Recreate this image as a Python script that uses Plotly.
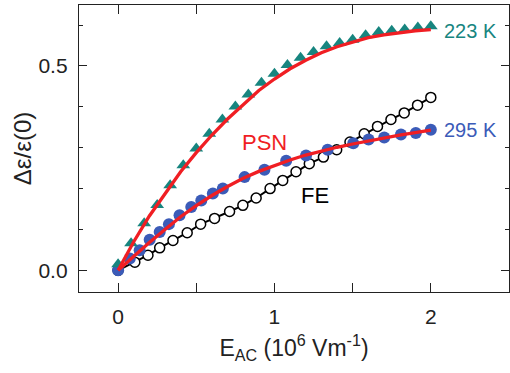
import plotly.graph_objects as go

# 223 K (PSN) measured points
x_223 = [0, 0.083, 0.167, 0.25, 0.333, 0.417, 0.5, 0.583, 0.667, 0.75, 0.833, 0.917,
         1.0, 1.083, 1.167, 1.25, 1.333, 1.417, 1.5, 1.583, 1.667, 1.75, 1.833, 1.917, 2.0]
y_223 = [0.015, 0.066, 0.115, 0.160, 0.208, 0.257, 0.298, 0.334, 0.369, 0.401, 0.430, 0.459,
         0.481, 0.502, 0.520, 0.534, 0.548, 0.556, 0.564, 0.575, 0.583, 0.586, 0.589, 0.594, 0.597]

# 295 K (PSN) measured points
x_295 = [0, 0.075, 0.138, 0.202, 0.266, 0.325, 0.393, 0.468, 0.532, 0.606, 0.670, 0.809,
         0.936, 1.075, 1.202, 1.340, 1.504, 1.602, 1.702, 1.809, 1.904, 2.0]
y_295 = [0.0, 0.029, 0.049, 0.075, 0.094, 0.113, 0.135, 0.155, 0.171, 0.188, 0.200, 0.228,
         0.246, 0.268, 0.281, 0.295, 0.311, 0.320, 0.325, 0.332, 0.336, 0.344]

# FE reference sample
x_fe = [0, 0.107, 0.191, 0.266, 0.351, 0.442, 0.528, 0.617, 0.713, 0.798, 0.883, 0.972,
        1.053, 1.138, 1.223, 1.313, 1.398, 1.483, 1.574, 1.659, 1.745, 1.830, 1.915, 2.0]
y_fe = [0.0, 0.020, 0.037, 0.055, 0.073, 0.092, 0.113, 0.127, 0.144, 0.159, 0.177, 0.200,
        0.220, 0.241, 0.261, 0.277, 0.295, 0.314, 0.334, 0.352, 0.369, 0.385, 0.404, 0.423]

# Fit curves
x_fit = [0, 0.1, 0.2, 0.3, 0.4, 0.5, 0.6, 0.7, 0.8, 0.9, 1.0, 1.1, 1.2, 1.3, 1.4, 1.5,
         1.6, 1.7, 1.8, 1.9, 2.0]
fit_223 = [0, 0.070, 0.133, 0.188, 0.241, 0.288, 0.331, 0.370, 0.406, 0.440, 0.468, 0.493,
           0.514, 0.532, 0.547, 0.559, 0.569, 0.576, 0.582, 0.586, 0.589]
fit_295 = [0, 0.035, 0.068, 0.100, 0.131, 0.158, 0.183, 0.205, 0.225, 0.242, 0.257, 0.270,
           0.282, 0.292, 0.301, 0.309, 0.317, 0.324, 0.331, 0.337, 0.343]

TEAL = "#17857f"
BLUE = "#3b5bb8"
RED = "#f01e23"
AXIS = "#222222"
FONT = "Liberation Sans, Arial, sans-serif"

fig = go.Figure()
fig.add_trace(go.Scatter(x=x_fe, y=y_fe, mode="lines+markers",
                         line=dict(color="black", width=2),
                         marker=dict(symbol="circle", size=10, color="white",
                                     line=dict(color="black", width=1.5))))
fig.add_trace(go.Scatter(x=x_295, y=y_295, mode="markers",
                         marker=dict(symbol="circle", size=12, color=BLUE, line=dict(width=0))))
fig.add_trace(go.Scatter(x=x_223, y=y_223, mode="markers",
                         marker=dict(symbol="triangle-up", size=12, color=TEAL, line=dict(width=0))))
fig.add_trace(go.Scatter(x=x_fit, y=fit_223, mode="lines", line=dict(color=RED, width=3.3)))
fig.add_trace(go.Scatter(x=x_fit, y=fit_295, mode="lines", line=dict(color=RED, width=3.3)))

annos = [
    dict(x=2.07, y=0.585, text="223 K", font=dict(color=TEAL, size=20)),
    dict(x=2.07, y=0.343, text="295 K", font=dict(color=BLUE, size=20)),
    dict(x=0.78, y=0.313, text="PSN", font=dict(color=RED, size=22)),
    dict(x=1.16, y=0.184, text="FE", font=dict(color="black", size=22)),
]
for a in annos:
    fig.add_annotation(xref="x", yref="y", xanchor="left", yanchor="middle",
                       showarrow=False, **a)

fig.update_layout(
    width=510, height=373,
    margin=dict(l=79, r=1, t=5, b=81),
    plot_bgcolor="white", paper_bgcolor="white",
    showlegend=False,
    font=dict(family=FONT, color=AXIS, size=21),
)
fig.update_xaxes(
    range=[-0.25, 2.5], showgrid=False, zeroline=False,
    showline=True, linecolor=AXIS, linewidth=1.3, mirror="ticks",
    ticks="inside", ticklen=9, tickwidth=1.2, tickcolor=AXIS,
    tickmode="array", tickvals=[0, 1, 2], ticktext=["0", "1", "2"],
    minor=dict(tickmode="array", tickvals=[0.5, 1.5],
               ticks="inside", ticklen=9, tickwidth=1.2, tickcolor=AXIS),
    tickfont=dict(size=21), ticklabelstandoff=6,
    title=dict(text="E<sub>AC</sub> (10<sup>6</sup> Vm<sup>-1</sup>)",
               font=dict(size=23), standoff=12),
)
fig.update_yaxes(
    range=[-0.053, 0.649], showgrid=False, zeroline=False,
    showline=True, linecolor=AXIS, linewidth=1.3, mirror="ticks",
    ticks="inside", ticklen=8, tickwidth=1.2, tickcolor=AXIS,
    tickmode="array", tickvals=[0, 0.5], ticktext=["0.0", "0.5"],
    minor=dict(tickmode="array", tickvals=[0.1, 0.2, 0.3, 0.4, 0.6],
               ticks="inside", ticklen=4, tickwidth=1.2, tickcolor=AXIS),
    tickfont=dict(size=21), ticklabelstandoff=6,
    title=dict(text="Δε/ε(0)", font=dict(size=24), standoff=0),
)

fig.write_html("out.html")
